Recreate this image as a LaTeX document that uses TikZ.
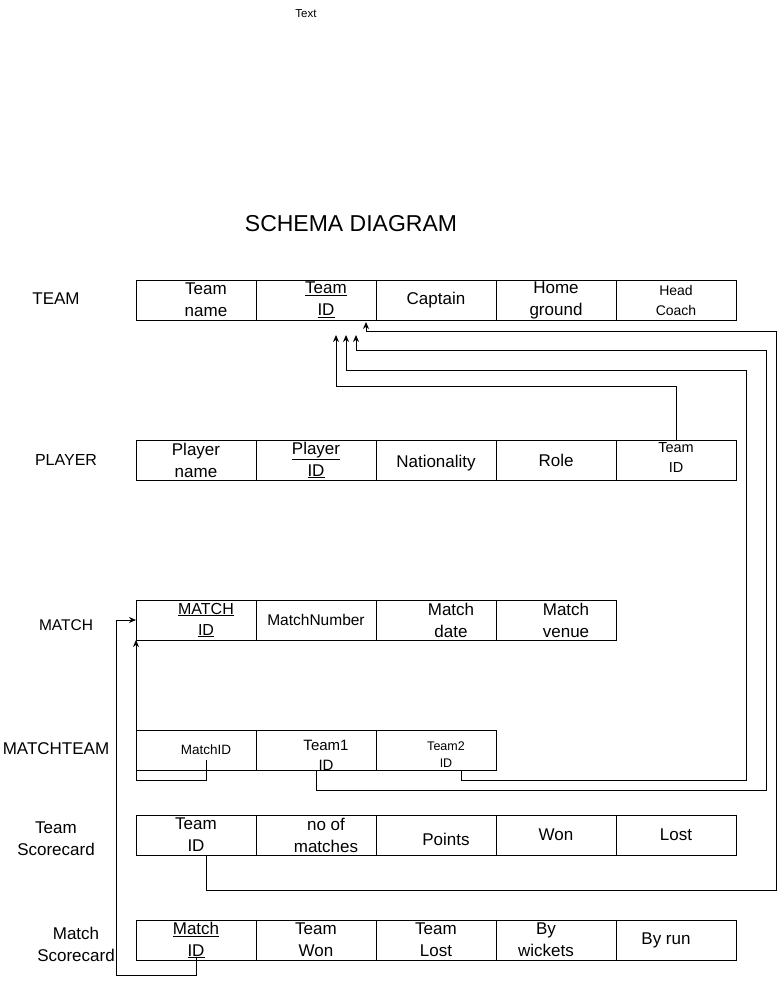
\documentclass[tikz,border=0pt]{standalone}
\usepackage{fontspec}
\setmainfont{Liberation Sans}
\usetikzlibrary{arrows.meta}
\begin{document}
\begin{tikzpicture}[x=1pt,y=-1pt,
  cell/.style={draw, line width=1pt, minimum width=120pt, minimum height=40pt, inner sep=0pt, outer sep=0pt},
  txt/.style={align=center, inner sep=0pt, font=\fontsize{17}{22}\selectfont},
  sm/.style={align=center, inner sep=0pt, font=\fontsize{14}{20}\selectfont},
  lab/.style={align=center, inner sep=0pt, font=\fontsize{17}{22}\selectfont},
  arr/.style={line width=1pt, -{Stealth[length=7pt,width=6pt]}},
  link/.style={line width=1pt}]
\fill[white] (0,0) rectangle (778,984);
\useasboundingbox (0,0) rectangle (778,984);

% titles
\node[inner sep=0pt, font=\fontsize{11.5}{14}\selectfont] (toptext) at (306,14) {Text};
\node[inner sep=0pt, font=\fontsize{23}{28}\selectfont] (title) at (351,224) {SCHEMA DIAGRAM};

% row labels
\node[lab] (lteam) at (56,299) {TEAM};
\node[lab, font=\fontsize{16}{20}\selectfont] (lplayer) at (66,460) {PLAYER};
\node[lab, font=\fontsize{15.5}{20}\selectfont] (lmatch) at (66,625) {MATCH};
\node[lab] (lmatchteam) at (56,749) {MATCHTEAM};
\node[lab] (lts) at (56,839) {Team\\Scorecard};
\node[lab] (lms) at (76,944) {Match\\Scorecard};

% TEAM
\node[cell] (t1) at (196,300) {};
\node[cell] (t2) at (316,300) {};
\node[cell] (t3) at (436,300) {};
\node[cell] (t4) at (556,300) {};
\node[cell] (t5) at (676,300) {};
\node[txt] (t1x) at ([xshift=10pt]t1.center) {Team\\name};
\node[txt] (t2x) at ([xshift=10pt]t2.center) {\underline{Team}\\\underline{ID}};
\node[txt] (t3x) at (t3.center) {Captain};
\node[txt] (t4x) at (t4.center) {Home\\ground};
\node[sm] (t5x) at (t5.center) {Head\\Coach};

% PLAYER
\node[cell] (p1) at (196,460) {};
\node[cell] (p2) at (316,460) {};
\node[cell] (p3) at (436,460) {};
\node[cell] (p4) at (556,460) {};
\node[cell] (p5) at (676,460) {};
\node[txt] (p1x) at (p1.center) {Player\\name};
\node[txt] (p2x) at (p2.center) {\underline{Player}\\\underline{ID}};
\node[txt] (p3x) at ([yshift=-3pt]p3.center) {Nationality};
\node[txt] (p4x) at (p4.center) {Role};
\node[sm, font=\fontsize{14.5}{20}\selectfont] (p5x) at ([yshift=2pt]p5.center) {Team\\ID};

% MATCH
\node[cell] (m1) at (196,620) {};
\node[cell] (m2) at (316,620) {};
\node[cell] (m3) at (436,620) {};
\node[cell] (m4) at (556,620) {};
\node[txt, font=\fontsize{16}{21}\selectfont] (m1x) at ([xshift=10pt]m1.center) {\underline{MATCH}\\\underline{ID}};
\node[txt, font=\fontsize{15.5}{20}\selectfont] (m2x) at (m2.center) {MatchNumber};
\node[txt] (m3x) at ([xshift=15pt]m3.center) {Match\\date};
\node[txt] (m4x) at ([xshift=10pt]m4.center) {Match\\venue};

% MATCHTEAM
\node[cell] (mt1) at (196,750) {};
\node[cell] (mt2) at (316,750) {};
\node[cell] (mt3) at (436,750) {};
\node[sm, font=\fontsize{13.5}{18}\selectfont] (mt1x) at ([xshift=10pt]mt1.center) {MatchID};
\node[sm, font=\fontsize{15}{20}\selectfont] (mt2x) at ([xshift=10pt,yshift=-5pt]mt2.center) {Team1\\ID};
\node[sm, font=\fontsize{12.5}{17}\selectfont] (mt3x) at ([xshift=10pt,yshift=-5pt]mt3.center) {Team2\\ID};

% Team Scorecard
\node[cell] (ts1) at (196,835) {};
\node[cell] (ts2) at (316,835) {};
\node[cell] (ts3) at (436,835) {};
\node[cell] (ts4) at (556,835) {};
\node[cell] (ts5) at (676,835) {};
\node[txt] (ts1x) at (ts1.center) {Team\\ID};
\node[txt] (ts2x) at ([xshift=10pt]ts2.center) {no of\\matches};
\node[txt] (ts3x) at ([xshift=10pt,yshift=-4pt]ts3.center) {Points};
\node[txt] (ts4x) at (ts4.center) {Won};
\node[txt] (ts5x) at (ts5.center) {Lost};

% Match Scorecard
\node[cell] (ms1) at (196,940) {};
\node[cell] (ms2) at (316,940) {};
\node[cell] (ms3) at (436,940) {};
\node[cell] (ms4) at (556,940) {};
\node[cell] (ms5) at (676,940) {};
\node[txt] (ms1x) at (ms1.center) {\underline{Match}\\\underline{ID}};
\node[txt] (ms2x) at (ms2.center) {Team\\Won};
\node[txt] (ms3x) at (ms3.center) {Team\\Lost};
\node[txt] (ms4x) at ([xshift=-10pt]ms4.center) {By\\wickets};
\node[txt] (ms5x) at ([xshift=-10pt]ms5.center) {By run};

% arrow targets below TEAM Team ID
\coordinate (a1) at (336,335);
\coordinate (a2) at (346,335);
\coordinate (a3) at (356,335);
\coordinate (a4) at (366,322);

% connectors
\draw[arr] (p5.north) -- ++(0,-54) -| (a1);
\draw[arr] ([xshift=25pt]mt3.south) -- ++(0,10) -| (746,370) -| (a2);
\draw[arr] (mt2.south) -- ++(0,20) -| (766,350) -| (a3);
\draw[arr] ([xshift=10pt]ts1.south) -- ++(0,35) -| (776,331) -| (a4);
\draw[arr] ([xshift=10pt,yshift=-10pt]mt1.center) -- ++(0,20) -| (m1.south west);
\draw[arr] ([yshift=3pt]ms1.south) -- ++(0,18) -- ++(-80,0) |- (m1.west);
\end{tikzpicture}
\end{document}
